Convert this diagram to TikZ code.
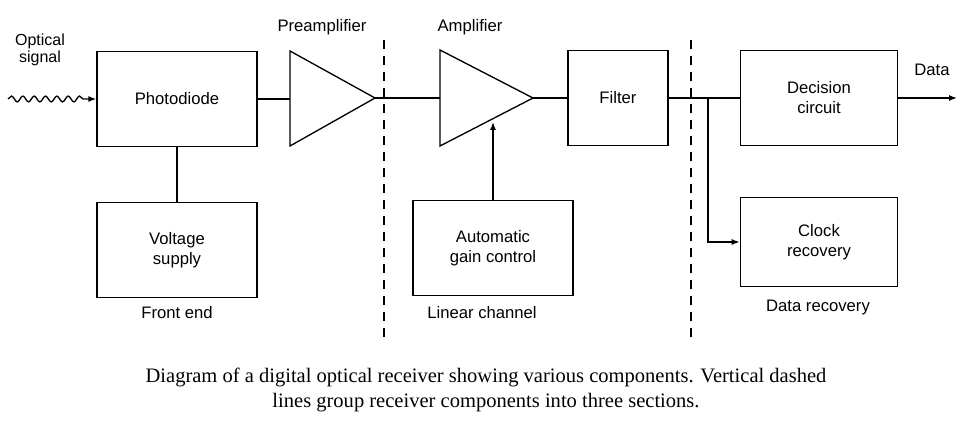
\documentclass[tikz,border=0pt]{standalone}
\usepackage{fontspec}
\setmainfont{Liberation Sans}
\newfontfamily\capfont{Liberation Serif}
\usetikzlibrary{arrows.meta,decorations.pathmorphing}
\begin{document}
\begin{tikzpicture}[x=0.75pt,y=-0.75pt,
  blk/.style={draw,line width=1pt,minimum width=120pt,minimum height=71pt,align=center,font=\fontsize{12.5}{15}\selectfont},
  lbl/.style={font=\fontsize{12.5}{15}\selectfont,align=center},
  ln/.style={line width=1pt},
  arr/.style={line width=1pt,-{Latex[length=6pt,width=4.5pt]}},
  sep/.style={line width=0.9pt,dash pattern=on 7pt off 5pt}]
\useasboundingbox (0,0) rectangle (966,427);
\node[lbl,font=\fontsize{12}{12.5}\selectfont] (os) at (40,50) {Optical\\signal};
\node[blk] (pd) at (177,99) {Photodiode};
\node[blk] (vs) at (177,250) {Voltage\\supply};
\node[lbl] (fe) at (177,313) {Front end};
\coordinate (ws) at (8,99);
\draw[arr,decorate,decoration={snake,amplitude=2.2pt,segment length=8.5pt,post length=9pt}] (ws) -- (pd.west);
\draw[ln] (pd.south) -- (vs.north);
\draw[ln] (290,51) -- (375,98) coordinate (pa) -- (290,146) -- cycle;
\node[lbl] (pal) at (322,27) {Preamplifier};
\draw[ln] (pd.east) -- (290,99);
\coordinate (d1t) at (384,40); \coordinate (d1b) at (384,342);
\draw[sep] (d1t) -- (d1b);
\draw[ln] (440,50) -- (533,98) coordinate (aa) -- (440,146) -- cycle;
\node[lbl] (aml) at (470,27) {Amplifier};
\draw[ln] (pa) -- (440,98);
\node[blk,minimum width=120pt] (agc) at (493,248) {Automatic\\gain control};
\coordinate (ab) at (493,122);
\draw[arr] (agc.north) -- (ab);
\node[lbl] (lc) at (482,313) {Linear channel};
\node[blk,minimum width=75pt] (fi) at (618,98) {Filter};
\draw[ln] (aa) -- (fi.west);
\coordinate (d2t) at (691,40); \coordinate (d2b) at (691,342);
\draw[sep] (d2t) -- (d2b);
\node[blk,minimum width=118pt] (dc) at (819,98) {Decision\\circuit};
\node[blk,minimum width=118pt,minimum height=67pt] (cr) at (819,242) {Clock\\recovery};
\draw[ln] (fi.east) -- (dc.west);
\coordinate (br) at (708,98);
\draw[arr] (br) |- (cr.west);
\coordinate (dout) at (957,98);
\draw[arr] (dc.east) -- (dout);
\node[lbl] (dl) at (932,70) {Data};
\node[lbl] (dr) at (818,307) {Data recovery};
\node[font=\capfont\fontsize{15.4}{19}\selectfont,align=center] (cap) at (486,390) {Diagram of a digital optical receiver showing various components. Vertical dashed\\lines group receiver components into three sections.};
\end{tikzpicture}
\end{document}
